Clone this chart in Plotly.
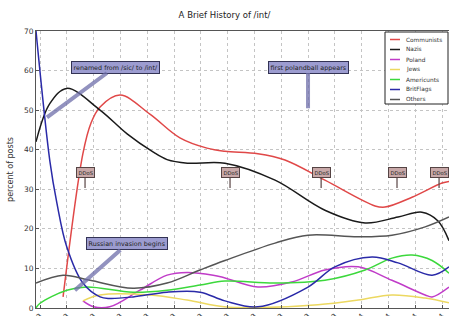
import plotly.graph_objects as go

# ---- data (x in tick-index units, y in percent of posts) ----
tick_labels = ["Jan 2013", "Feb 2013", "Mar 2013", "Apr 2013", "May 2013", "Jun 2013",
               "Jul 2013", "Aug 2013", "Sep 2013", "Oct 2013", "Nov 2013", "Dec 2013",
               "Jan 2014", "Feb 2014", "Mar 2014", "Apr 2014"]

communists_x = [0.86, 1.6, 1.9, 2.24, 2.99, 4.1, 5.22, 6.23, 6.9, 8.13, 9.14, 10.63, 12.5, 12.87, 13.88, 15.0, 15.26]
communists_y = [2.8, 39, 46.7, 50.8, 53.8, 49, 43, 40.4, 39.6, 39, 37.4, 32.3, 25.8, 25.5, 28, 31.6, 32]

nazis_x = [-0.15, 0.37, 1.0, 2.24, 3.25, 4.2, 4.74, 5.5, 6.9, 8.77, 10.63, 12.13, 13.36, 14.25, 14.85, 15.26]
nazis_y = [42, 51.7, 55.5, 50, 44, 39.5, 37.5, 36.6, 36.6, 32.3, 24.7, 21.5, 23, 24.2, 22, 17]

poland_x = [1.6, 2.0, 2.6, 3.73, 4.74, 5.49, 6.46, 6.9, 8.13, 9.4, 10.63, 11.87, 13.13, 14.37, 14.63, 15.26]
poland_y = [1.8, 0.3, 0.3, 4.5, 8.3, 9, 8.3, 7.6, 5.3, 6.6, 9.6, 10.4, 7, 3.3, 2.8, 5.3]

jews_x = [1.6, 2.24, 4.1, 5.49, 6.87, 8.13, 10.37, 11.87, 13.13, 14.37, 15.26]
jews_y = [1.8, 3.3, 3.3, 2.0, 0.3, 0.1, 0.8, 2.0, 3.3, 2.5, 1.3]

americunts_x = [-0.15, 0.0, 1.0, 1.75, 3.47, 4.74, 5.97, 6.9, 8.77, 10.63, 12.13, 13.13, 13.88, 14.63, 15.26]
americunts_y = [0, 1.2, 4.5, 5.3, 4.0, 4.5, 5.8, 6.8, 6.3, 7.0, 9.6, 12.6, 13.4, 12.0, 8.8]

britflags_x = [-0.15, 0.37, 0.63, 1.0, 1.6, 2.24, 2.6, 3.47, 4.74, 5.97, 6.9, 8.13, 10.0, 11.0, 12.39, 13.36, 14.63, 15.26]
britflags_y = [70, 37, 26.5, 15.4, 6.3, 2.8, 2.4, 2.8, 4.0, 4.0, 1.8, 0.3, 5.3, 10.4, 12.9, 11.4, 8.3, 10.4]

others_x = [-0.15, 0.86, 1.87, 3.47, 4.74, 5.97, 6.9, 8.77, 10.0, 11.87, 13.13, 14.37, 15.26]
others_y = [6.3, 8.3, 7.0, 5.0, 6.3, 9.6, 12.0, 16.4, 18.4, 18.0, 18.4, 20.5, 23]

series_names = ["Communists", "Nazis", "Poland", "Jews", "Americunts", "BritFlags", "Others"]
series_x = [communists_x, nazis_x, poland_x, jews_x, americunts_x, britflags_x, others_x]
series_y = [communists_y, nazis_y, poland_y, jews_y, americunts_y, britflags_y, others_y]
series_colors = ["#e04848", "#1a1a1a", "#c03cc8", "#ecd860", "#3cd83c", "#2a2aa8", "#555555"]

# events: (label, box x, box y, tip x, tip y, kind)
events = [
    ("renamed from /sic/ to /int/", 2.8, 60.9, 0.26, 48.2, "big"),
    ("first polandball appears", 10.0, 60.9, 10.0, 50.5, "big"),
    ("Russian invasion begins", 3.25, 16.2, 1.3, 4.5, "big"),
    ("DDoS", 1.68, 34.3, 1.68, 30.3, "small"),
    ("DDoS", 7.09, 34.3, 7.09, 30.3, "small"),
    ("DDoS", 10.49, 34.3, 10.49, 30.3, "small"),
    ("DDoS", 13.32, 34.3, 13.32, 30.3, "small"),
    ("DDoS", 14.89, 34.3, 14.89, 30.3, "small"),
]

W, H = 449, 316
ML, MR, MT, MB = 36, 0, 31, 8
PW, PH = W - ML - MR, H - MT - MB


def px2paper(px, py):
    return (px - ML) / PW, (H - MB - py) / PH


fig = go.Figure()
for name, xs, ys, col in zip(series_names, series_x, series_y, series_colors):
    fig.add_trace(go.Scatter(x=xs, y=ys, name=name, mode="lines", showlegend=False,
                             line=dict(color=col, width=1.5, shape="spline", smoothing=1.0)))

for label, bx, by, tx, ty, kind in events:
    big = kind == "big"
    fig.add_annotation(
        x=tx, y=ty, ax=bx, ay=by, axref="x", ayref="y", xref="x", yref="y",
        text=label, showarrow=True, arrowhead=0,
        arrowwidth=4 if big else 1.5,
        arrowcolor="rgba(110,110,170,0.75)" if big else "rgba(90,70,70,0.8)",
        bgcolor="#9c9cd0" if big else "#c8a8a8",
        bordercolor="#333355" if big else "#554444",
        borderwidth=1, borderpad=1.5,
        font=dict(size=6.4 if big else 5.2, color="#222222", family="DejaVu Sans"),
    )

# manual legend (matplotlib-style compact box)
bx0, by0 = px2paper(385, 104)
bx1, by1 = px2paper(448, 32)
fig.add_shape(type="rect", xref="paper", yref="paper", x0=bx0, y0=by0, x1=bx1, y1=by1,
              line=dict(color="#222222", width=1), fillcolor="white", layer="above")
for k, (name, col) in enumerate(zip(series_names, series_colors)):
    rowy = 39.5 + 10 * k
    lx0, ly = px2paper(390, rowy)
    lx1, _ = px2paper(400, rowy)
    fig.add_shape(type="line", xref="paper", yref="paper", x0=lx0, x1=lx1, y0=ly, y1=ly,
                  line=dict(color=col, width=1.5), layer="above")
    tx, _ = px2paper(404, rowy)
    fig.add_annotation(xref="paper", yref="paper", x=tx, y=ly, text=name, showarrow=False,
                       xanchor="left", yanchor="middle",
                       font=dict(size=5.8, color="#333333", family="DejaVu Sans"))

fig.update_layout(
    template="none",
    width=W, height=H,
    margin=dict(l=ML, r=MR, t=MT, b=MB),
    paper_bgcolor="white", plot_bgcolor="white",
    title=dict(text="A Brief History of /int/", x=0.5, xanchor="center", y=1 - 15 / H,
               yanchor="middle", yref="container",
               font=dict(size=8.5, color="#222222", family="DejaVu Sans")),
    font=dict(family="DejaVu Sans", color="#333333"),
    showlegend=False,
)
fig.update_xaxes(range=[-0.15, 15.26], tickmode="array", tickvals=list(range(16)),
                 ticktext=tick_labels, tickangle=-45, tickfont=dict(size=7),
                 showgrid=True, gridcolor="#c4c4c4", griddash="dot", gridwidth=1,
                 showline=True, linecolor="#555555", linewidth=1, mirror=True,
                 ticks="inside", ticklen=3, tickcolor="#555555",
                 zeroline=False, automargin=False)
fig.update_yaxes(range=[0, 70], tickmode="array", tickvals=list(range(0, 71, 10)),
                 tickfont=dict(size=7.5, color="#333333"),
                 title=dict(text="percent of posts", font=dict(size=8, color="#333333"), standoff=9),
                 showgrid=True, gridcolor="#c4c4c4", griddash="dot", gridwidth=1,
                 showline=True, linecolor="#555555", linewidth=1, mirror=True,
                 ticks="inside", ticklen=3, tickcolor="#555555",
                 zeroline=False, automargin=False)

fig.write_html("out.html", config={"displayModeBar": False},
               post_script="document.body.style.margin='0';document.body.style.overflow='hidden';")
